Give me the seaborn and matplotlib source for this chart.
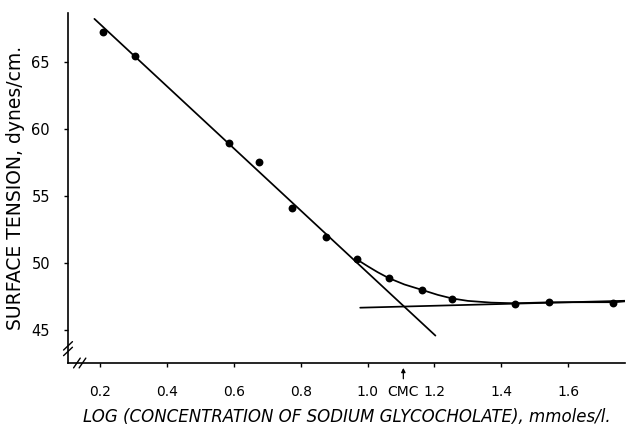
import matplotlib
matplotlib.use("Agg")
import matplotlib.pyplot as plt
import matplotlib.transforms as mtransforms
import seaborn as sns
import pandas as pd

# ---- data ----
log_conc = [0.21, 0.305, 0.585, 0.675, 0.775, 0.875, 0.968, 1.063, 1.163, 1.253, 1.44, 1.542, 1.734]
tension = [67.25, 65.45, 58.95, 57.55, 54.1, 51.95, 50.25, 48.85, 48.0, 47.3, 46.95, 47.05, 47.0]

steep_x = [0.183, 1.203]
steep_y = [68.26, 44.55]

base_x = [0.978, 1.772]
base_y = [46.64, 47.16]

curve_x = [0.965, 1.0, 1.03, 1.063, 1.11, 1.163, 1.21, 1.253, 1.3, 1.37, 1.44, 1.54, 1.64, 1.74, 1.772]
curve_y = [50.3, 49.75, 49.3, 48.86, 48.38, 47.97, 47.6, 47.33, 47.15, 47.02, 46.97, 47.04, 47.05, 47.05, 47.12]

x_ticks = [0.2, 0.4, 0.6, 0.8, 1.0, 1.2, 1.4, 1.6]
x_tick_labels = ["0.2", "0.4", "0.6", "0.8", "1.0", "1.2", "1.4", "1.6"]
y_ticks = [45, 50, 55, 60, 65]
y_tick_labels = ["45", "50", "55", "60", "65"]
cmc_x = 1.107

sns.set_theme(style="white")
plt.rcParams["font.family"] = ["DejaVu Sans"]

fig = plt.figure(figsize=(6.3, 4.25), dpi=100)
ax = fig.add_axes([68 / 630, 1 - 363 / 425, (625 - 68) / 630, (363 - 13) / 425])

pts = pd.DataFrame({"x": log_conc, "y": tension})
sns.scatterplot(data=pts, x="x", y="y", ax=ax, color="black", s=32,
                edgecolor="black", linewidth=0, zorder=3)
for lx, ly in [(steep_x, steep_y), (base_x, base_y), (curve_x, curve_y)]:
    df = pd.DataFrame({"x": lx, "y": ly})
    sns.lineplot(data=df, x="x", y="y", ax=ax, color="black", lw=1.25,
                 sort=False, estimator=None, zorder=2)

ax.set_xlim(0.104, 1.77)
ax.set_ylim(42.5, 68.7)

for s in ["top", "right"]:
    ax.spines[s].set_visible(False)
for s in ["left", "bottom"]:
    ax.spines[s].set_color("black")
    ax.spines[s].set_linewidth(1.2)

ax.set_xticks(x_ticks)
ax.set_xticklabels(x_tick_labels)
ax.set_yticks(y_ticks)
ax.set_yticklabels(y_tick_labels)
ax.tick_params(axis="x", direction="out", length=3, width=1, pad=13,
               labelsize=10, colors="black", bottom=True)
ax.tick_params(axis="y", direction="out", length=3, width=1, pad=10,
               labelsize=10.5, colors="black", left=True)

ax.set_xlabel("LOG (CONCENTRATION OF SODIUM GLYCOCHOLATE), mmoles/l.",
              fontsize=12, style="italic", color="black", labelpad=6)
ax.set_ylabel("SURFACE TENSION, dynes/cm.", fontsize=13.5, color="black")
ax.yaxis.set_label_coords(-0.077, 0.5)

# CMC marker
trans = mtransforms.blended_transform_factory(ax.transData, ax.transAxes)
ax.annotate("", xy=(cmc_x, -0.014), xytext=(cmc_x, -0.045), xycoords=trans,
            textcoords=trans,
            arrowprops=dict(arrowstyle="-|>", color="black", lw=0.9,
                            mutation_scale=6, shrinkA=0, shrinkB=0))
ax.text(cmc_x, -0.083, "CMC", transform=trans, ha="center", va="center",
        fontsize=10, color="black")

# axis break marks
for dy in (-0.012, 0.004):
    ax.plot([-0.008, 0.008], [0.045 + dy - 0.012, 0.045 + dy + 0.012],
            transform=ax.transAxes, color="black", lw=1, clip_on=False)
for dx in (-0.004, 0.006):
    ax.plot([0.02 + dx - 0.006, 0.02 + dx + 0.006], [-0.014, 0.014],
            transform=ax.transAxes, color="black", lw=1, clip_on=False)

fig.savefig("out.png", dpi=100)
